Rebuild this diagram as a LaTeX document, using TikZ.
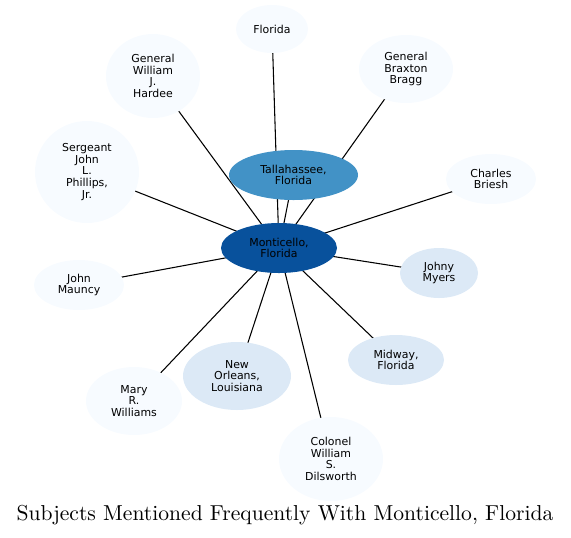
\documentclass[tikz,border=0pt]{standalone}
\usepackage{fontspec}
\newfontfamily\nodefont{DejaVu Sans}
\newfontfamily\titlefont{lmroman10-regular}[Extension=.otf]
\definecolor{BluesPale}{HTML}{F7FBFF}
\definecolor{BluesSoft}{HTML}{DCE9F6}
\definecolor{BluesMid}{HTML}{4292C6}
\definecolor{BluesDeep}{HTML}{08519C}
\usetikzlibrary{shapes.geometric,backgrounds}

\begin{document}
\begin{tikzpicture}[
    x=0.75pt, y=-0.75pt,
    ent/.style={ellipse, inner sep=0pt, align=center,
      font=\nodefont\fontsize{8.2}{8.8}\selectfont},
    sz/.style 2 args={minimum width=#1*1.5pt, minimum height=#2*1.5pt},
    pale/.style={ent, fill=BluesPale},
    soft/.style={ent, fill=BluesSoft},
    tal/.style={ent, fill=BluesMid},
    hub/.style={ent, fill=BluesDeep},
    link/.style={draw=black, line width=0.8pt}
  ]
    \useasboundingbox (0,0) rectangle (571,537);
    \node[hub, sz={58}{25}] (mon) at (279,248) {Monticello,\\Florida};
    \node[tal, sz={64.5}{25}] (tal) at (293.5,175) {Tallahassee,\\Florida};
    \node[pale, sz={36}{24}] (fla) at (272,29) {Florida};
    \node[pale, sz={47}{42}] (hardee) at (153,76) {General\\William\\J.\\Hardee};
    \node[pale, sz={47}{34}] (bragg) at (406,69) {General\\Braxton\\Bragg};
    \node[pale, sz={52}{51}] (phillips) at (87,172) {Sergeant\\John\\L.\\Phillips,\\Jr.};
    \node[pale, sz={45}{25}] (briesh) at (491,179) {Charles\\Briesh};
    \node[pale, sz={45}{25}] (mauncy) at (79,285) {John\\Mauncy};
    \node[soft, sz={39}{25}] (myers) at (439,273) {Johny\\Myers};
    \node[soft, sz={48}{25}] (midway) at (396,360) {Midway,\\Florida};
    \node[soft, sz={54}{34}] (orleans) at (237,376) {New\\Orleans,\\Louisiana};
    \node[pale, sz={48}{34}] (mary) at (134,401) {Mary\\R.\\Williams};
    \node[pale, sz={52}{42}] (dilsworth) at (331,459) {Colonel\\William\\S.\\Dilsworth};
    \node[font=\titlefont\fontsize{16.2}{18}\selectfont] (title) at (285,515)
      {Subjects Mentioned Frequently With Monticello, Florida};
    \begin{scope}[on background layer]
      \foreach \other in {tal,fla,hardee,bragg,phillips,briesh,mauncy,myers,midway,orleans,mary,dilsworth}
        \draw[link] (mon.center) -- (\other.center);
    \end{scope}
  \end{tikzpicture}
\end{document}
